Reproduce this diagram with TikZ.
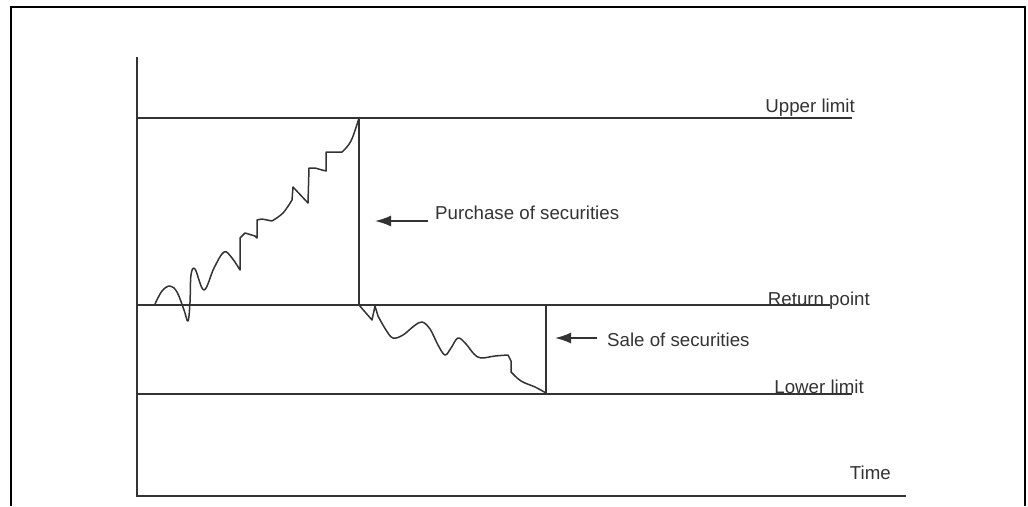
\documentclass[tikz,border=0pt]{standalone}
\usepackage{fontspec}
\setmainfont{Liberation Sans}
\usepackage{xcolor}
\usetikzlibrary{arrows.meta, positioning, calc}

\definecolor{ink}{HTML}{333333}

\begin{document}
\begin{tikzpicture}[
    x=1pt, y=-1pt,
    frame/.style={draw=black, line width=2.6pt},
    level/.style={draw=ink, line width=1.7pt},
    walk/.style={draw=ink, line width=1.5pt, line join=round},
    lbl/.style={text=ink, inner sep=0pt, font=\fontsize{18.7}{21}\selectfont},
    note/.style={text=ink, inner ysep=0pt, font=\fontsize{18.7}{21}\selectfont},
    pointer/.style={draw=ink, line width=1.7pt, -{Latex[length=16pt,width=11pt]}}
]
    \useasboundingbox (0,0) rectangle (1028,506);

    % Frame
    \draw[frame] (11,506) |- (1025,7) -- (1025,506);

    % Axes
    \coordinate (origin) at (137,496);
    \coordinate (ytop) at (137,57);
    \coordinate (xend) at (906,496);
    \draw[level] (ytop) -- (origin) -- (xend);

    % Limits
    \coordinate (upL) at (137,118);   \coordinate (upR) at (852,118);
    \coordinate (retL) at (137,305);  \coordinate (retR) at (830,305);
    \coordinate (lowL) at (137,394);  \coordinate (lowR) at (852,394);
    \draw[level] (upL) -- (upR);
    \draw[level] (retL) -- (retR);
    \draw[level] (lowL) -- (lowR);

    \node[lbl, anchor=base east] (upper) at (855,112) {Upper limit};
    \node[lbl, anchor=base east] (return) at (870,305) {Return point};
    \node[lbl, anchor=base east] (lower) at (864,393) {Lower limit};
    \node[lbl, anchor=base east] (time) at (891,479) {Time};

    % Jumps back to the return point
    \coordinate (buytop) at (359,118);
    \coordinate (buybot) at (359,305);
    \coordinate (selltop) at (546,305);
    \coordinate (sellbot) at (546,394);
    \draw[level] (buytop) -- (buybot);
    \draw[level] (selltop) -- (sellbot);

    % Cash balance, rising
    \draw[walk] plot[smooth, tension=0.6] coordinates {(155,304) (162,291) (170,286) (177,292) (184,310) (188,321) (190,302) (191,275) (195,269) (204,290) (214,268) (224,252) (232,258) (240,270)}
        -- (240,238) -- (245,233) -- (255,236) -- (257,238) -- (257,220) -- (262,219) -- (272,221)
        plot[smooth, tension=0.6] coordinates {(272,221) (283,213) (292,200)}
        -- (293,187) -- (308,203) -- (309,168) -- (315,168) -- (322,170) -- (326,171) -- (326,152) -- (342,152)
        plot[smooth, tension=0.6] coordinates {(342,152) (351,141) (359,118)};

    % Cash balance, falling
    \draw[walk] (359,305) -- (372,320) -- (375,306) -- (378,316)
        plot[smooth, tension=0.6] coordinates {(378,316) (386,330) (393,338) (403,335) (414,326) (422,322) (430,329) (438,345) (445,355) (451,348) (458,338) (466,344) (474,354) (481,358) (495,356) (508,355)}
        -- (511,361) -- (511,372)
        plot[smooth, tension=0.6] coordinates {(511,372) (521,381) (535,387) (546,393)};

    % Notes
    \node[note, inner xsep=7pt, anchor=base west] (buy) at (428,219) {Purchase of securities};
    \coordinate (buytip) at (375,221);
    \draw[pointer] (buy.west |- buytip) -- (buytip);

    \node[note, inner xsep=10pt, anchor=base west] (sell) at (597,346) {Sale of securities};
    \coordinate (selltip) at (555,338);
    \draw[pointer] (sell.west |- selltip) -- (selltip);
\end{tikzpicture}
\end{document}
